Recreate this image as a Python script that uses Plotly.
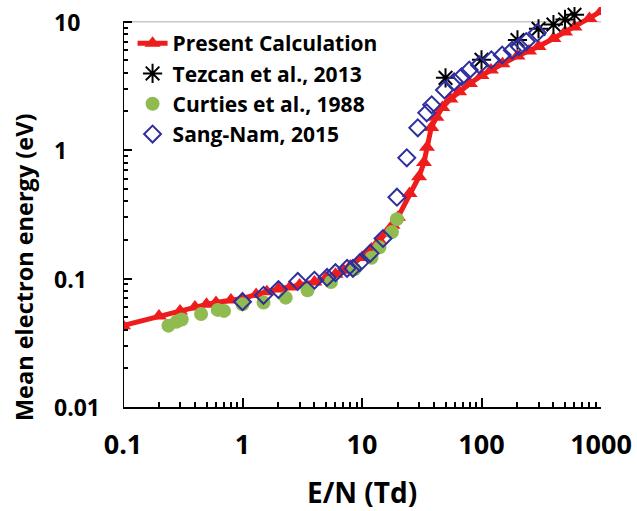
import math
import plotly.graph_objects as go

# Present Calculation
pc_x = [0.1, 0.2, 0.3, 0.4, 0.5, 0.6, 0.8, 1.0, 1.3, 1.6, 2.0, 2.5, 3.0, 4.0, 5.0, 6.0, 7.0, 8.0,
        10, 12, 14, 16, 18, 20, 25, 30, 33, 35, 38, 42, 47, 55, 65, 80, 100, 120, 150, 200, 250,
        300, 400, 500, 600, 800, 1000]
pc_y = [0.043, 0.051, 0.056, 0.060, 0.063, 0.065, 0.068, 0.070, 0.075, 0.079, 0.083, 0.086, 0.089,
        0.094, 0.101, 0.108, 0.116, 0.125, 0.146, 0.170, 0.197, 0.225, 0.26, 0.30, 0.46, 0.62, 0.80,
        1.05, 1.5, 1.8, 2.15, 2.5, 2.85, 3.3, 3.8, 4.2, 4.7, 5.4, 5.9, 6.4, 7.4, 8.3, 9.1, 10.6, 12.0]

# Tezcan et al., 2013
tz_x = [50, 100, 200, 300, 400, 500, 600]
tz_y = [3.65, 5.05, 7.2, 8.8, 9.5, 10.4, 11.3]

# Curties et al., 1988
cu_x = [0.24, 0.28, 0.31, 0.45, 0.62, 0.70, 1.0, 1.5, 2.3, 3.5, 5.5, 8.6, 12, 14, 17.8, 19.6]
cu_y = [0.043, 0.046, 0.048, 0.053, 0.057, 0.056, 0.063, 0.065, 0.071, 0.081, 0.094, 0.118,
        0.145, 0.175, 0.23, 0.29]

# Sang-Nam, 2015
sn_x = [1.0, 1.5, 2.0, 2.9, 4.0, 5.1, 6.0, 7.5, 8.4, 9.6, 11.7, 15, 19.6, 23.7, 29.3, 34.8, 38.3,
        49, 59, 68, 79, 96, 121, 149, 181, 207, 237, 293]
sn_y = [0.066, 0.074, 0.082, 0.095, 0.097, 0.102, 0.111, 0.12, 0.12, 0.133, 0.157, 0.205, 0.43,
        0.87, 1.49, 1.95, 2.25, 2.94, 3.4, 3.72, 4.2, 4.6, 5.05, 5.5, 6.0, 6.4, 7.0, 8.2]

x_ticks = [0.1, 1, 10, 100, 1000]
x_tick_labels = ["0.1", "1", "10", "100", "1000"]
y_ticks = [0.01, 0.1, 1, 10]
y_tick_labels = ["0.01", "0.1", "1", "10"]

x_title = "E/N (Td)"
y_title = "Mean electron energy (eV)"

FONT = "Open Sans"

fig = go.Figure()
fig.add_trace(go.Scatter(
    x=pc_x, y=pc_y, mode="lines+markers", name="Present Calculation",
    line=dict(color="#ee1c1c", width=5),
    marker=dict(symbol="triangle-up", size=14, color="#ee1c1c"),
))
fig.add_trace(go.Scatter(
    x=tz_x, y=tz_y, mode="markers", name="Tezcan et al., 2013",
    marker=dict(symbol="asterisk-open", size=16, color="black", line=dict(color="black", width=2)),
))
fig.add_trace(go.Scatter(
    x=cu_x, y=cu_y, mode="markers", name="Curties et al., 1988",
    marker=dict(symbol="circle", size=14, color="#8fbb50"),
))
fig.add_trace(go.Scatter(
    x=sn_x, y=sn_y, mode="markers", name="Sang-Nam, 2015",
    marker=dict(symbol="diamond-open", size=13, color="#2e2e9e", line=dict(color="#2e2e9e", width=2)),
))

# left axis line (only up to 10) and light top border line
fig.add_shape(type="line", xref="x", yref="y", x0=0.1, x1=0.1, y0=0.01, y1=10,
              line=dict(color="black", width=2))
fig.add_shape(type="line", xref="x", yref="y", x0=0.1, x1=1000, y0=10, y1=10,
              line=dict(color="#c8c8c8", width=1.5), layer="below")

# y tick labels (left aligned, as in the reference)
for v, t in zip(y_ticks, y_tick_labels):
    fig.add_annotation(x=-0.149, xref="paper", y=math.log10(v), yref="y", text=t,
                       showarrow=False, xanchor="left", yanchor="middle",
                       font=dict(size=23, family=FONT, weight="bold", color="black"))

fig.add_annotation(x=0.5, xref="paper", y=-0.2125, yref="paper", text=x_title,
                   showarrow=False, xanchor="center", yanchor="middle",
                   font=dict(size=28, family=FONT, weight="bold", color="black"))
fig.add_annotation(x=-0.207, xref="paper", y=0.35, yref="paper", text=y_title, textangle=-90,
                   showarrow=False, xanchor="center", yanchor="middle",
                   font=dict(size=23.5, family=FONT, weight="bold", color="black"))

fig.update_layout(
    width=637, height=511,
    margin=dict(l=123, r=36, t=7, b=104),
    paper_bgcolor="white", plot_bgcolor="white",
    font=dict(family=FONT, color="black"),
    showlegend=True,
    legend=dict(x=0.02, y=0.96, xanchor="left", yanchor="top",
                bgcolor="rgba(0,0,0,0)", font=dict(size=21, family=FONT, weight="bold"),
                tracegroupgap=0, itemwidth=30),
    xaxis=dict(
        type="log", range=[-1, 3], showgrid=False, zeroline=False, automargin=False,
        showline=True, linecolor="black", linewidth=2,
        tickvals=x_ticks, ticktext=x_tick_labels,
        ticks="inside", ticklen=9, tickwidth=2, tickcolor="black",
        tickfont=dict(size=27, family=FONT, weight="bold"),
        ticklabelstandoff=13,
        minor=dict(ticks="inside", ticklen=5, tickwidth=1.5, tickcolor="black", dtick="D1", showgrid=False),
    ),
    yaxis=dict(
        type="log", range=[-2, 1.114], showgrid=False, zeroline=False, automargin=False,
        showline=False, showticklabels=False,
        tickvals=y_ticks,
        ticks="inside", ticklen=9, tickwidth=2, tickcolor="black",
        minor=dict(ticks="inside", ticklen=5, tickwidth=1.5, tickcolor="black", dtick="D1", showgrid=False),
    ),
)

fig.write_html("out.html", config={"displayModeBar": False},
               post_script="document.body.style.margin='0';")
